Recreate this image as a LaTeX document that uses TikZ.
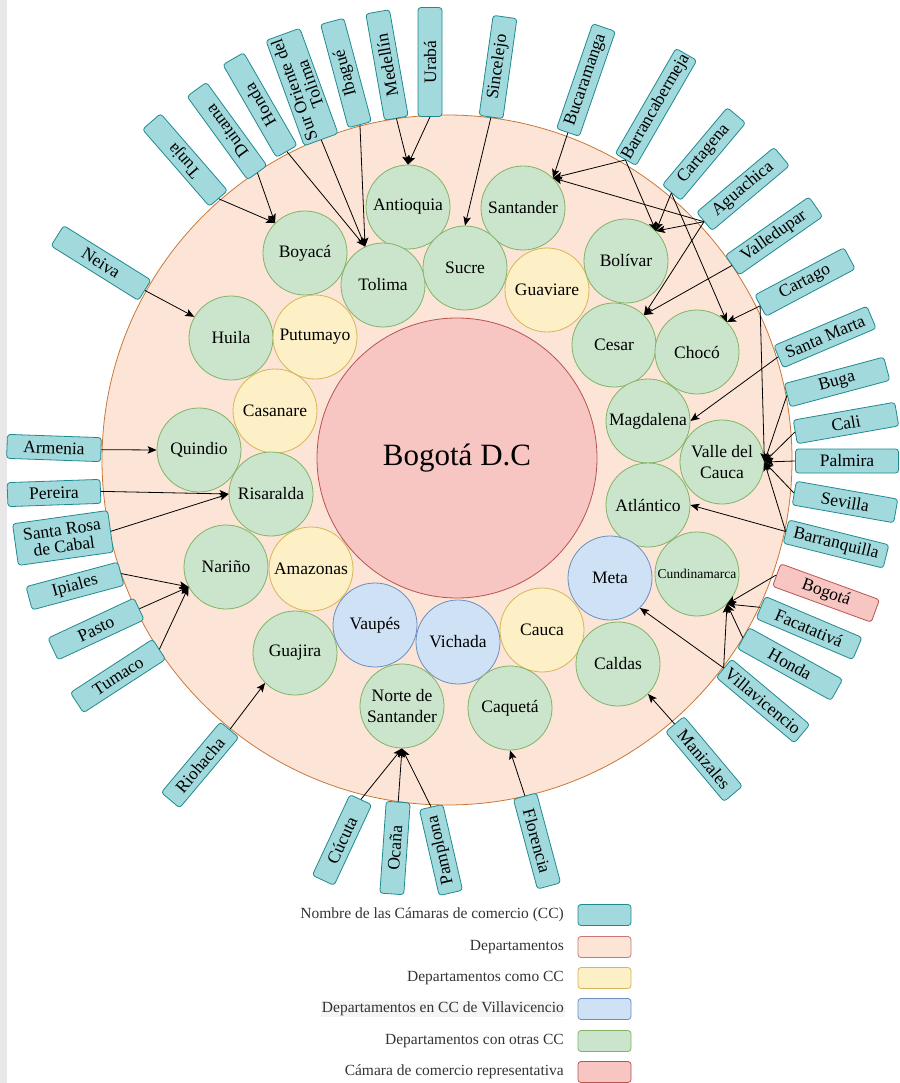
\documentclass[tikz,border=0pt]{standalone}
\usepackage{fontspec}
\setmainfont{Liberation Serif}
\usetikzlibrary{arrows.meta}

\definecolor{ccfill}{HTML}{A2D9DC}
\definecolor{ccdraw}{HTML}{1F8A8F}
\definecolor{depfill}{HTML}{FCE4D6}
\definecolor{depdraw}{HTML}{C8783A}
\definecolor{gfill}{HTML}{CBE5CC}
\definecolor{gdraw}{HTML}{82B366}
\definecolor{yfill}{HTML}{FDEFC6}
\definecolor{ydraw}{HTML}{D6B656}
\definecolor{bfill}{HTML}{CFE1F4}
\definecolor{bdraw}{HTML}{6C8EBF}
\definecolor{pfill}{HTML}{F7C5C2}
\definecolor{pdraw}{HTML}{B85450}
\definecolor{legtext}{HTML}{333333}

\begin{document}
\begin{tikzpicture}[x=1pt,y=1pt,
  cc/.style={draw=ccdraw, fill=ccfill, rounded corners=3pt, minimum height=24pt,
    inner sep=1pt, align=center, font=\fontsize{17.5}{17}\selectfont, line width=0.8pt},
  dep/.style={circle, minimum size=84pt, inner sep=0pt, align=center,
    font=\fontsize{17.5}{21}\selectfont, line width=0.8pt},
  dg/.style={dep, fill=gfill, draw=gdraw},
  dy/.style={dep, fill=yfill, draw=ydraw},
  db/.style={dep, fill=bfill, draw=bdraw},
  link/.style={-{Stealth[length=9pt,width=7.5pt,inset=2pt]}, line width=0.8pt},
  legbox/.style={rounded corners=3pt, minimum width=53pt, minimum height=21pt, line width=0.8pt},
  legtxt/.style={anchor=east, inner sep=1pt, text=legtext, font=\fontsize{15.5}{18}\selectfont}
]
\useasboundingbox (0,0) rectangle (899,-1083);
\fill[black!9] (0,0) rectangle (7,-1083);

% departments ring and the capital
\node[circle, minimum size=690pt, fill=depfill, draw=depdraw, line width=0.8pt] (ring) at (447,-460) {};
\node[circle, minimum size=280pt, fill=pfill, draw=pdraw, line width=0.8pt,
  font=\fontsize{31}{34}\selectfont] (capital) at (457,-458) {Bogotá D.C};

% departments
\node[dg] (antioquia) at (408,-207) {Antioquia};
\node[dg] (santander) at (523,-208) {Santander};
\node[dg] (boyaca) at (305,-253) {Boyacá};
\node[dg] (tolima) at (383,-285) {Tolima};
\node[dg] (sucre) at (465,-268) {Sucre};
\node[dy] (guaviare) at (547,-290) {Guaviare};
\node[dg] (bolivar) at (626,-261) {Bolívar};
\node[dg] (cesar) at (614,-345) {Cesar};
\node[dg] (choco) at (697,-352) {Chocó};
\node[dg] (magdalena) at (648,-421) {Magdalena};
\node[dg] (valle) at (722,-462) {Valle del\\Cauca};
\node[dg] (atlantico) at (648,-505) {Atlántico};
\node[db] (meta) at (610,-578) {Meta};
\node[dg, font=\fontsize{13.5}{15}\selectfont] (cundi) at (697,-574) {Cundinamarca};
\node[dg] (huila) at (231,-338) {Huila};
\node[dy] (putumayo) at (315,-337) {Putumayo};
\node[dy] (casanare) at (275,-411) {Casanare};
\node[dg] (quindio) at (199,-450) {Quindio};
\node[dg] (risaralda) at (271,-494) {Risaralda};
\node[dg] (narino) at (226,-567) {Nariño};
\node[dy] (amazonas) at (311,-569) {Amazonas};
\node[db] (vaupes) at (375,-625) {Vaupés};
\node[dg] (guajira) at (295,-653) {Guajira};
\node[db] (vichada) at (458,-642) {Vichada};
\node[dg] (norte) at (402,-706) {Norte de\\Santander};
\node[dy] (cauca) at (542,-630) {Cauca};
\node[dg] (caldas) at (618,-664) {Caldas};
\node[dg] (caqueta) at (510,-708) {Caquetá};

% chambers of commerce
\node[cc, rotate=-32, minimum width=103pt] (neiva) at (101,-263) {Neiva};
\node[cc, rotate=131, minimum width=102pt] (tunja) at (185,-160) {Tunja};
\node[cc, rotate=126, minimum width=103pt] (duitama) at (227,-131) {Duitama};
\node[cc, rotate=120, minimum width=107pt] (hondaN) at (260,-105) {Honda};
\node[cc, rotate=110, minimum width=112pt, minimum height=36pt] (suror) at (302,-87) {Sur Oriente del\\Tolima};
\node[cc, rotate=105, minimum width=107pt] (ibague) at (346,-73) {Ibagué};
\node[cc, rotate=100, minimum width=108pt] (medellin) at (387,-65) {Medellín};
\node[cc, rotate=90, minimum width=109pt] (uraba) at (430,-62) {Urabá};
\node[cc, rotate=82, minimum width=101pt] (sincelejo) at (498,-67) {Sincelejo};
\node[cc, rotate=71, minimum width=111pt] (bucaramanga) at (586,-80) {Bucaramanga};
\node[cc, rotate=60, minimum width=121pt] (barranca) at (656,-107) {Barrancabermeja};
\node[cc, rotate=50, minimum width=101pt] (cartagena) at (704,-154) {Cartagena};
\node[cc, rotate=40, minimum width=101pt] (aguachica) at (743,-189) {Aguachica};
\node[cc, rotate=35, minimum width=102pt] (valledupar) at (774,-236) {Valledupar};
\node[cc, rotate=28, minimum width=101pt] (cartago) at (805,-282) {Cartago};
\node[cc, rotate=23, minimum width=101pt] (santamarta) at (825,-337) {Santa Marta};
\node[cc, rotate=15, minimum width=103pt] (buga) at (837,-382) {Buga};
\node[cc, rotate=10, minimum width=103pt] (cali) at (846,-423) {Cali};
\node[cc, rotate=0, minimum width=103pt] (palmira) at (847,-461) {Palmira};
\node[cc, rotate=-10, minimum width=103pt] (sevilla) at (845,-502) {Sevilla};
\node[cc, rotate=-14, minimum width=103pt] (barranquilla) at (836,-544) {Barranquilla};
\node[cc, rotate=-20, minimum width=105pt, fill=pfill, draw=pdraw] (bogbox) at (826,-593) {Bogotá};
\node[cc, rotate=-23, minimum width=105pt] (facatativa) at (809,-628) {Facatativá};
\node[cc, rotate=-29, minimum width=107pt] (hondaS) at (790,-664) {Honda};
\node[cc, rotate=-40, minimum width=102pt] (villavicencio) at (763,-701) {Villavicencio};
\node[cc, rotate=-50, minimum width=91pt] (manizales) at (704,-759) {Manizales};
\node[cc, rotate=-75, minimum width=93pt] (florencia) at (537,-841) {Florencia};
\node[cc, rotate=103, minimum width=88pt] (pamplona) at (441,-850) {Pamplona};
\node[cc, rotate=86, minimum width=92pt] (ocana) at (395,-848) {Ocaña};
\node[cc, rotate=65, minimum width=89pt] (cucuta) at (342,-840) {Cúcuta};
\node[cc, rotate=50, minimum width=92pt] (riohacha) at (200,-765) {Riohacha};
\node[cc, rotate=33, minimum width=98pt] (tumaco) at (118,-676) {Tumaco};
\node[cc, rotate=25, minimum width=95pt] (pasto) at (96,-629) {Pasto};
\node[cc, rotate=15, minimum width=95pt] (ipiales) at (75,-586) {Ipiales};
\node[cc, rotate=8, minimum width=96pt, minimum height=42pt] (santarosa) at (63,-538) {Santa Rosa\\de Cabal};
\node[cc, rotate=2, minimum width=93pt] (pereira) at (54,-493) {Pereira};
\node[cc, rotate=-2, minimum width=94pt] (armenia) at (54,-448) {Armenia};

% links from each chamber to its department
\draw[link] (uraba.west) -- (antioquia.90);
\draw[link] (medellin.west) -- (antioquia.90);
\draw[link] (ibague.west) -- (tolima.115);
\draw[link] (suror.west) -- (tolima.115);
\draw[link] (hondaN.west) -- (tolima.115);
\draw[link] (duitama.west) -- (boyaca.135);
\draw[link] (tunja.west) -- (boyaca.135);
\draw[link] (neiva.east) -- (huila.150);
\draw[link] (sincelejo.west) -- (sucre.90);
\draw[link] (bucaramanga.west) -- (santander.45);
\draw[link] (barranca.west) -- (santander.45);
\draw[link] (barranca.west) -- (bolivar.45);
\draw[link] (cartagena.west) -- (bolivar.45);
\draw[link] (cartagena.west) -- (choco.45);
\draw[link] (aguachica.west) -- (santander.45);
\draw[link] (aguachica.west) -- (bolivar.45);
\draw[link] (aguachica.west) -- (cesar.45);
\draw[link] (valledupar.west) -- (cesar.45);
\draw[link] (cartago.west) -- (choco.45);
\draw[link] (cartago.west) -- (valle.0);
\draw[link] (santamarta.west) -- (magdalena.0);
\draw[link] (buga.west) -- (valle.0);
\draw[link] (cali.west) -- (valle.0);
\draw[link] (palmira.west) -- (valle.0);
\draw[link] (sevilla.west) -- (valle.0);
\draw[link] (barranquilla.west) -- (valle.0);
\draw[link] (barranquilla.west) -- (atlantico.0);
\draw[link] (bogbox.west) -- (cundi.-45);
\draw[link] (facatativa.west) -- (cundi.-45);
\draw[link] (hondaS.west) -- (cundi.-45);
\draw[link] (villavicencio.west) -- (cundi.-45);
\draw[link] (villavicencio.west) -- (meta.-45);
\draw[link] (manizales.west) -- (caldas.-45);
\draw[link] (florencia.west) -- (caqueta.270);
\draw[link] (cucuta.east) -- (norte.270);
\draw[link] (ocana.east) -- (norte.270);
\draw[link] (pamplona.east) -- (norte.270);
\draw[link] (riohacha.east) -- (guajira.225);
\draw[link] (tumaco.east) -- (narino.208);
\draw[link] (pasto.east) -- (narino.208);
\draw[link] (ipiales.east) -- (narino.208);
\draw[link] (armenia.east) -- (quindio.180);
\draw[link] (pereira.east) -- (risaralda.180);
\draw[link] (santarosa.east) -- (risaralda.180);

% legend
\node[legbox, fill=ccfill, draw=ccdraw] (k1) at (604.5,-915) {};
\node[legbox, fill=depfill, draw=pdraw!80] (k2) at (604.5,-947) {};
\node[legbox, fill=yfill, draw=ydraw] (k3) at (604.5,-978) {};
\node[legbox, fill=bfill, draw=bdraw] (k4) at (604.5,-1009) {};
\node[legbox, fill=gfill, draw=gdraw] (k5) at (604.5,-1041) {};
\node[legbox, fill=pfill, draw=pdraw] (k6) at (604.5,-1072) {};
\node[legtxt] (t1) at (565,-915) {Nombre de las Cámaras de comercio (CC)};
\node[legtxt] (t2) at (565,-947) {Departamentos};
\node[legtxt] (t3) at (565,-978) {Departamentos como CC};
\node[legtxt, fill=black!4] (t4) at (565,-1009) {Departamentos en CC de Villavicencio};
\node[legtxt] (t5) at (565,-1041) {Departamentos con otras CC};
\node[legtxt] (t6) at (565,-1072) {Cámara de comercio representativa};
\end{tikzpicture}
\end{document}
